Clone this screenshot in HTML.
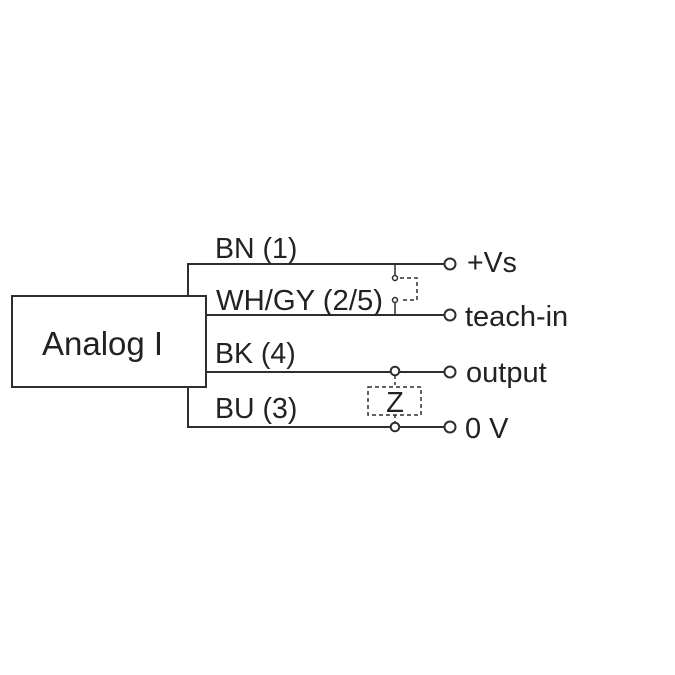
<!DOCTYPE html>
<html>
<head>
<meta charset="utf-8">
<style>
html,body{margin:0;padding:0;background:#fff;}
svg{display:block;}
text{font-family:"Liberation Sans",Arial,sans-serif;fill:#222;}
</style>
</head>
<body>
<svg width="675" height="675" viewBox="0 0 675 675" xmlns="http://www.w3.org/2000/svg">
<g stroke="#2e2e2e" stroke-width="2" fill="none">
  <!-- box -->
  <rect x="12" y="296" width="194" height="91"/>
  <!-- BN -->
  <polyline points="188,296 188,264 444,264"/>
  <!-- WH/GY -->
  <line x1="206" y1="315" x2="444" y2="315"/>
  <!-- BK -->
  <line x1="206" y1="372" x2="444" y2="372"/>
  <!-- BU -->
  <polyline points="188,387 188,427 444,427"/>
  <!-- terminal circles -->
  <circle cx="450" cy="264" r="5.5" fill="#fff"/>
  <circle cx="450" cy="315" r="5.5" fill="#fff"/>
  <circle cx="450" cy="372" r="5.5" fill="#fff"/>
  <circle cx="450" cy="427" r="5.5" fill="#fff"/>
</g>
<!-- teach-in switch -->
<g stroke="#2e2e2e" stroke-width="1.5" fill="none">
  <line x1="395" y1="264" x2="395" y2="275"/>
  <circle cx="395" cy="278" r="2.5" fill="#fff"/>
  <circle cx="395" cy="300" r="2.5" fill="#fff"/>
  <line x1="395" y1="303" x2="395" y2="315"/>
  <path d="M400 278 H417 V300 H400" stroke-dasharray="4,3"/>
</g>
<!-- Z load -->
<g stroke="#2e2e2e" stroke-width="1.5" fill="none">
  <rect x="368" y="387" width="53" height="28" stroke-dasharray="4,3"/>
  <line x1="395" y1="376" x2="395" y2="387" stroke-dasharray="3,3"/>
  <line x1="395" y1="415" x2="395" y2="423" stroke-dasharray="3,3"/>
  <circle cx="395" cy="371" r="4.3" fill="#fff" stroke-width="2"/>
  <circle cx="395" cy="427" r="4.3" fill="#fff" stroke-width="2"/>
</g>
<text x="395" y="412" font-size="29" text-anchor="middle">Z</text>
<!-- labels -->
<text x="42" y="355" font-size="33">Analog I</text>
<text x="215" y="258" font-size="28.5">BN (1)</text>
<text x="216" y="310" font-size="28.5" textLength="167" lengthAdjust="spacingAndGlyphs">WH/GY (2/5)</text>
<text x="215" y="363" font-size="28.5">BK (4)</text>
<text x="215" y="418" font-size="28.5">BU (3)</text>
<text x="467" y="272" font-size="28.5">+Vs</text>
<text x="465" y="326" font-size="29">teach-in</text>
<text x="466" y="382" font-size="29">output</text>
<text x="465" y="438" font-size="29">0 V</text>
</svg>
</body>
</html>
